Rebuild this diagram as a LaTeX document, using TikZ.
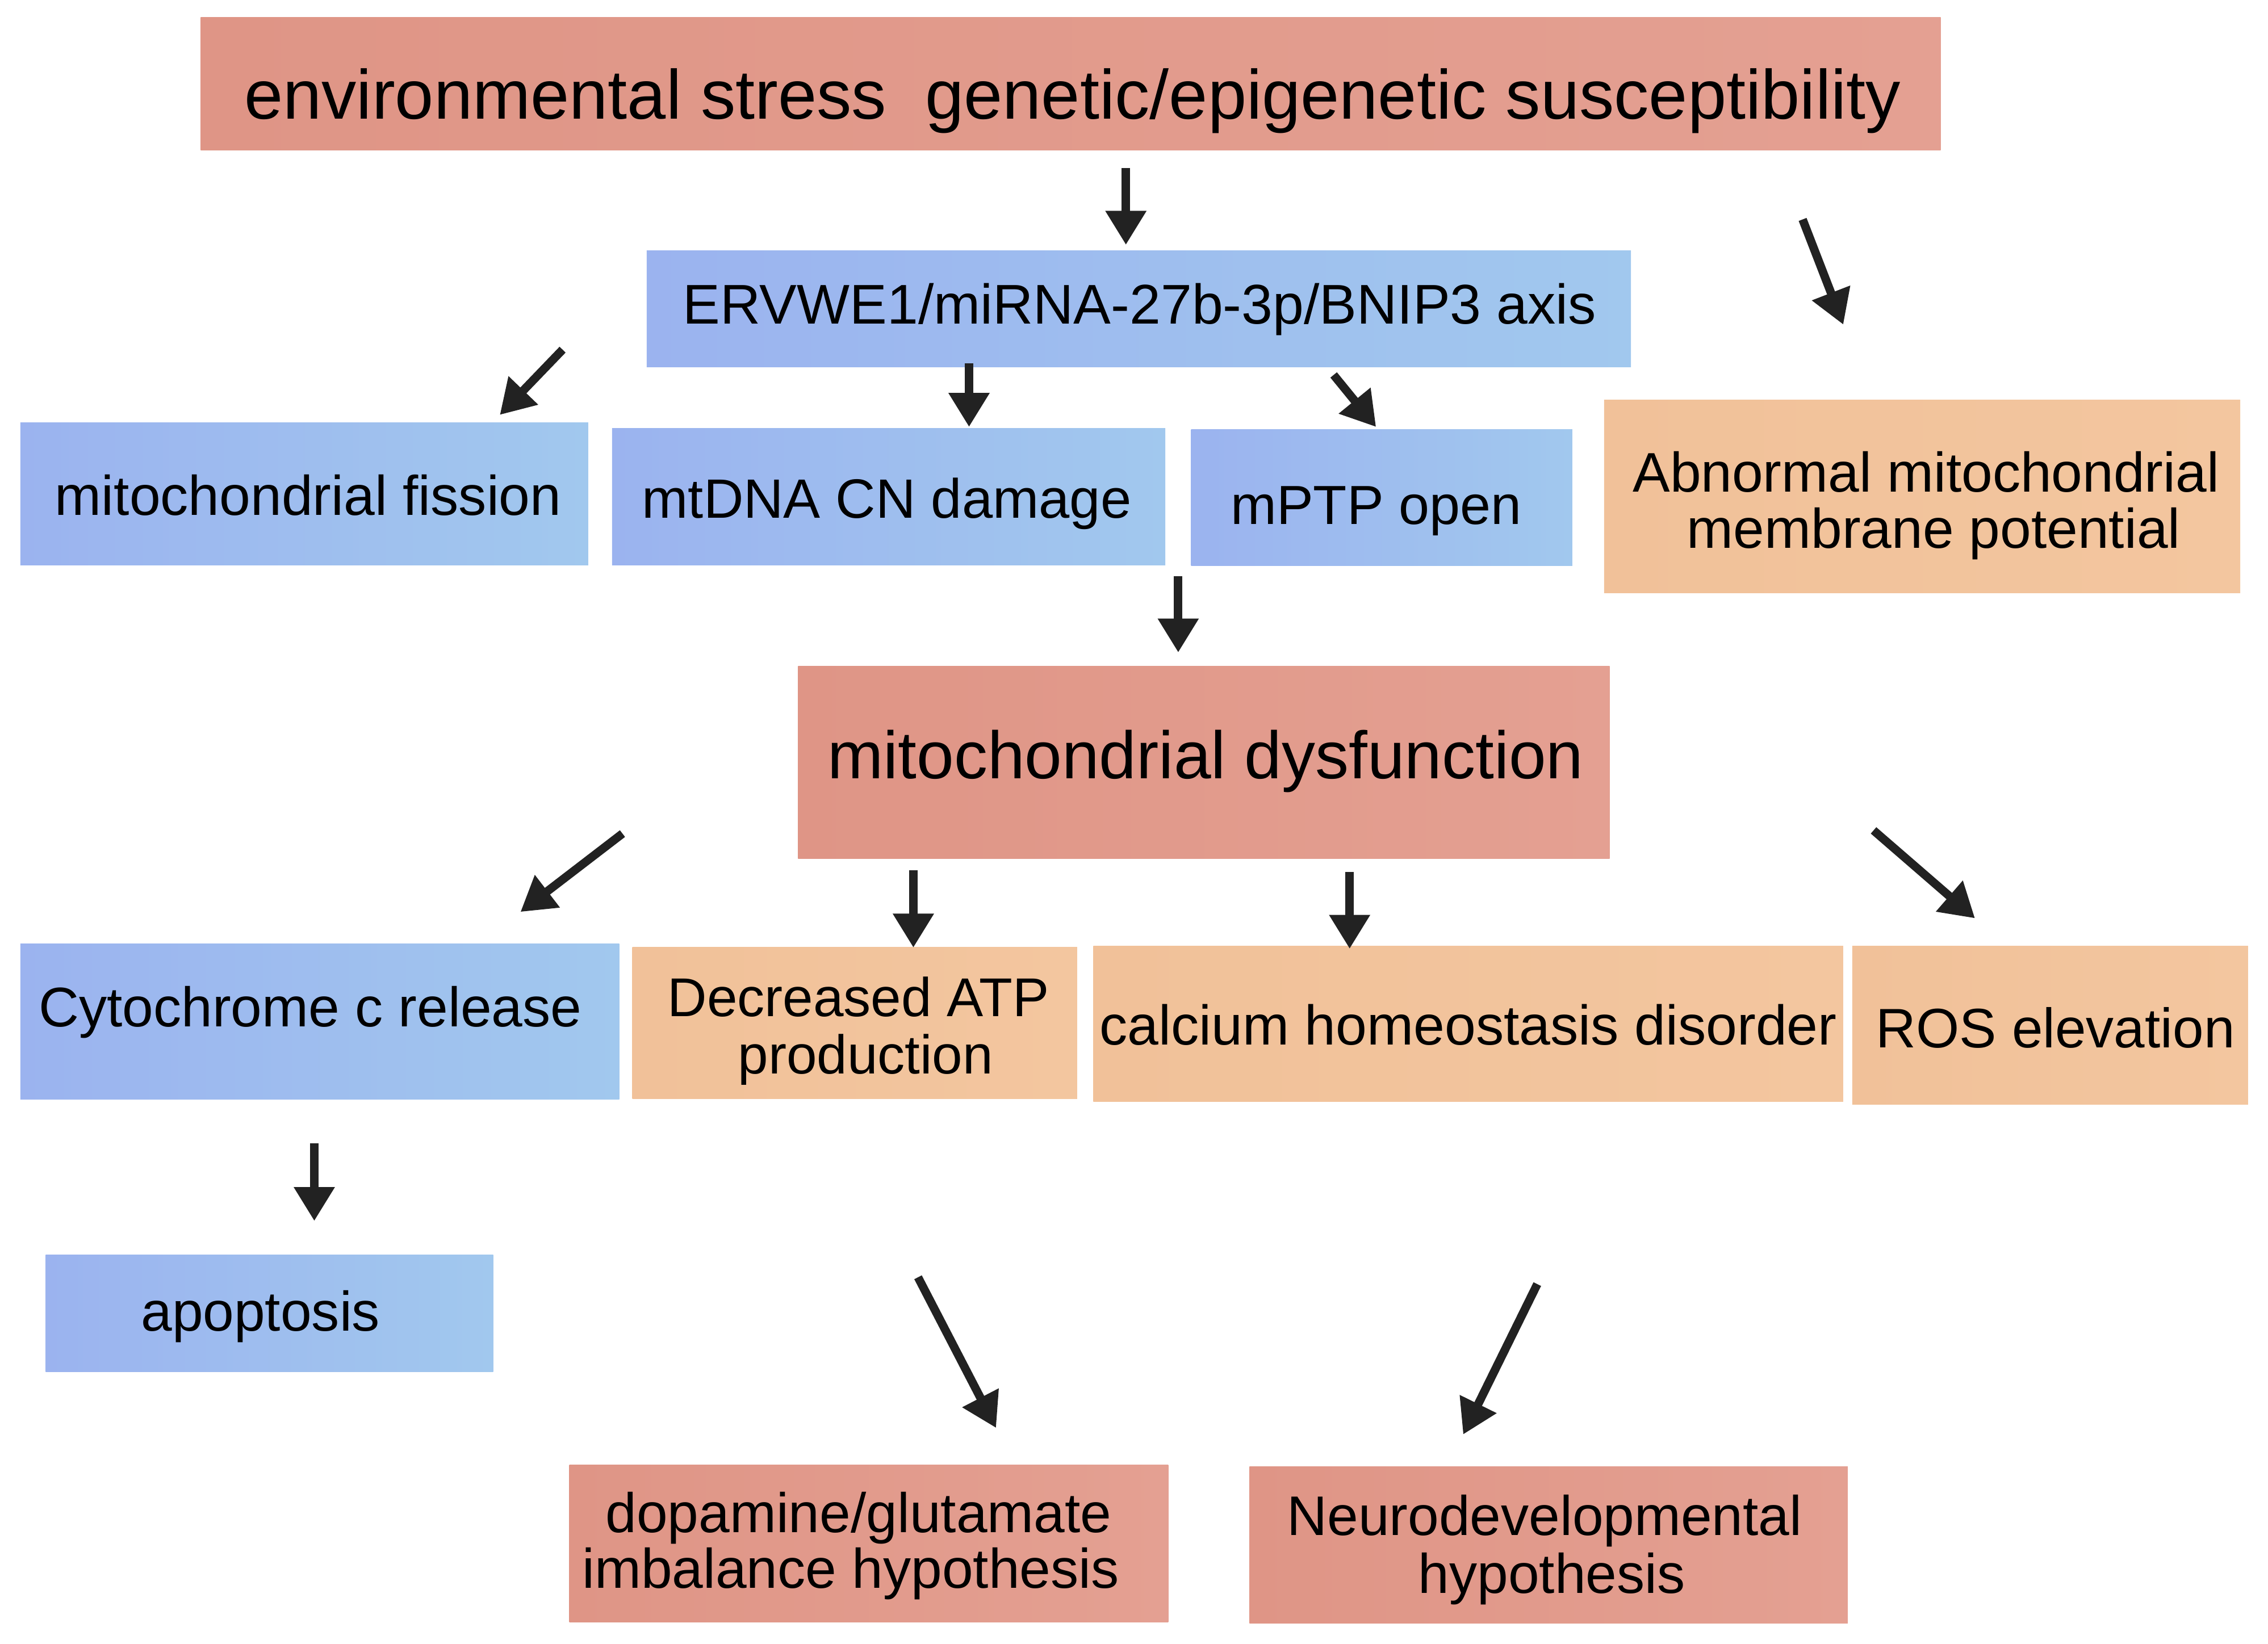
\documentclass[tikz,border=0pt]{standalone}
\usepackage{fontspec}
\setmainfont{Liberation Sans}
\usetikzlibrary{arrows.meta}
\definecolor{salL}{HTML}{DF9586}
\definecolor{salR}{HTML}{E4A092}
\definecolor{bluL}{HTML}{9BB3EF}
\definecolor{bluR}{HTML}{A1C8EE}
\definecolor{orgL}{HTML}{F1C199}
\definecolor{orgR}{HTML}{F3C69F}
\definecolor{arr}{HTML}{222222}
\newcommand\fs[1]{\fontsize{#1}{#1}\selectfont}
\tikzset{
 box/.style={inner sep=0pt, outer sep=0pt},
 salbox/.style={box, left color=salL, right color=salR},
 blubox/.style={box, left color=bluL, right color=bluR},
 orgbox/.style={box, left color=orgL, right color=orgR},
 txt/.style={inner sep=0pt, outer sep=0pt, anchor=base, text=black},
 arrow/.style={draw=arr, line width=5.8pt, -{Triangle[length=23.4pt,width=26.7pt]}}
}
\begin{document}
\begin{tikzpicture}[x=1pt,y=-1pt]
\useasboundingbox (0,0) rectangle (1560.16,1131.25);
% boxes
\node[salbox, minimum width=1197pt, minimum height=91.3pt] (top) at (736.5,57.65) {};
\node[blubox, minimum width=677pt, minimum height=79.8pt] (erv) at (783.4,212.5) {};
\node[blubox, minimum width=390.6pt, minimum height=98pt] (fis) at (209.3,340) {};
\node[blubox, minimum width=380.6pt, minimum height=94.2pt] (mtd) at (611.3,341.9) {};
\node[blubox, minimum width=262.2pt, minimum height=93.8pt] (mpt) at (950.5,342.5) {};
\node[orgbox, minimum width=437.5pt, minimum height=133pt] (abn) at (1322.25,341.7) {};
\node[salbox, minimum width=558.3pt, minimum height=132.4pt] (dys) at (828.15,524.7) {};
\node[blubox, minimum width=412pt, minimum height=107.3pt] (cyt) at (220,702.95) {};
\node[orgbox, minimum width=306pt, minimum height=104.1pt] (atp) at (588,703.85) {};
\node[orgbox, minimum width=515.8pt, minimum height=106.9pt] (cal) at (1010,704.55) {};
\node[orgbox, minimum width=272.2pt, minimum height=108.7pt] (ros) at (1410.3,705.45) {};
\node[blubox, minimum width=307.9pt, minimum height=80.3pt] (apo) at (185.35,903.75) {};
\node[salbox, minimum width=412.1pt, minimum height=108.1pt] (dop) at (597.65,1062.05) {};
\node[salbox, minimum width=411.5pt, minimum height=107.7pt] (neu) at (1065.25,1062.95) {};
% texts (anchored at baseline)
\node[txt, font=\fs{47.9}] (topT) at (737.8,82) {environmental stress\ \ genetic/epigenetic susceptibility};
\node[txt, font=\fs{38.5}] (ervT) at (784,222.9) {ERVWE1/miRNA-27b-3p/BNIP3 axis};
\node[txt, font=\fs{38.45}] (fisT) at (212,354.4) {mitochondrial fission};
\node[txt, font=\fs{38.1}] (mtdT) at (610,356.6) {mtDNA CN damage};
\node[txt, font=\fs{37.9}] (mptT) at (946.7,360.9) {mPTP open};
\node[txt, font=\fs{38.4}] (abnT1) at (1324.9,338.3) {Abnormal mitochondrial};
\node[txt, font=\fs{38.4}] (abnT2) at (1330.2,377.3) {membrane potential};
\node[txt, font=\fs{46.1}] (dysT) at (829.3,535.7) {mitochondrial dysfunction};
\node[txt, font=\fs{38.4}] (cytT) at (213.4,706.6) {Cytochrome c release};
\node[txt, font=\fs{37.6}] (atpT1) at (590.5,699.5) {Decreased ATP};
\node[txt, font=\fs{37.6}] (atpT2) at (595.4,738.7) {production};
\node[txt, font=\fs{38.5}] (calT) at (1010,718.75) {calcium homeostasis disorder};
\node[txt, font=\fs{38.3}] (rosT) at (1413.9,720.7) {ROS elevation};
\node[txt, font=\fs{38.4}] (apoT) at (179.2,916) {apoptosis};
\node[txt, font=\fs{38.4}] (dopT1) at (590.6,1054.3) {dopamine/glutamate};
\node[txt, font=\fs{38.4}] (dopT2) at (585.2,1092.9) {imbalance hypothesis};
\node[txt, font=\fs{38.4}] (neuT1) at (1062.5,1056.6) {Neurodevelopmental};
\node[txt, font=\fs{38.4}] (neuT2) at (1067.4,1096.2) {hypothesis};
% arrow end points
\coordinate (a1) at (774.5,115.7);  \coordinate (a2) at (774.5,168.5);
\coordinate (b1) at (1240,151);     \coordinate (b2) at (1268,223.4);
\coordinate (c1) at (387,240.6);    \coordinate (c2) at (343.8,285.5);
\coordinate (d1) at (666.6,250);    \coordinate (d2) at (666.6,293.8);
\coordinate (e1) at (917.4,258);    \coordinate (e2) at (946.6,293.8);
\coordinate (f1) at (810.5,396.5);  \coordinate (f2) at (810.5,449);
\coordinate (g1) at (428.2,573.6);  \coordinate (g2) at (358,627.5);
\coordinate (h1) at (628.3,598.8);  \coordinate (h2) at (628.3,652.1);
\coordinate (i1) at (928.4,599.9);  \coordinate (i2) at (928.4,652.9);
\coordinate (j1) at (1288.8,571.4); \coordinate (j2) at (1358.6,631.9);
\coordinate (k1) at (216.2,786.9);  \coordinate (k2) at (216.2,840.2);
\coordinate (l1) at (631.5,878.9);  \coordinate (l2) at (685.2,982.6);
\coordinate (m1) at (1057.5,883.6); \coordinate (m2) at (1006.5,987.1);
\foreach \p in {a,b,c,d,e,f,g,h,i,j,k,l,m} {\draw[arrow] (\p1) -- (\p2);}
\end{tikzpicture}
\end{document}
